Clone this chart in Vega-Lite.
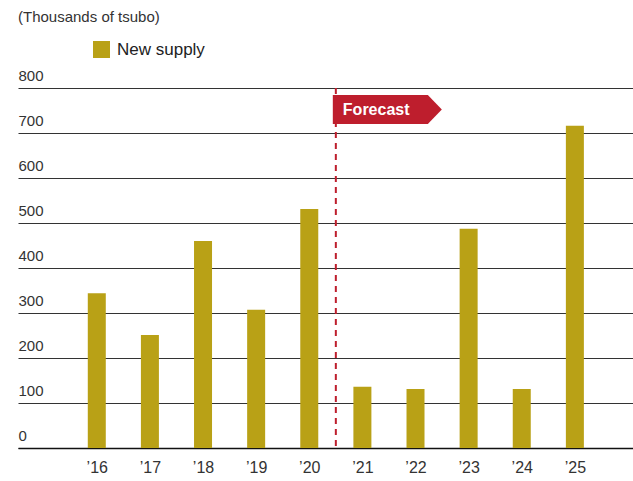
{
  "$schema": "https://vega.github.io/schema/vega-lite/v6.json",
  "autosize": "none",
  "width": 615,
  "height": 360,
  "padding": {"left": 18, "top": 88, "right": 0, "bottom": 33},
  "background": "white",
  "config": {"view": {"stroke": null}, "font": "Liberation Sans"},
  "title": {"text": "(Thousands of tsubo)", "anchor": "start", "frame": "group", "fontSize": 15, "fontWeight": "normal", "color": "#333", "font": "Liberation Sans", "offset": 16},
  "datasets": {
    "supply": [
      {"year": 2016, "value": 344, "series": "New supply"},
      {"year": 2017, "value": 251, "series": "New supply"},
      {"year": 2018, "value": 460, "series": "New supply"},
      {"year": 2019, "value": 307, "series": "New supply"},
      {"year": 2020, "value": 531, "series": "New supply"},
      {"year": 2021, "value": 136, "series": "New supply"},
      {"year": 2022, "value": 131, "series": "New supply"},
      {"year": 2023, "value": 487, "series": "New supply"},
      {"year": 2024, "value": 131, "series": "New supply"},
      {"year": 2025, "value": 716, "series": "New supply"}
    ],
    "forecast": [
      {"start": 2020.5, "top": 800, "bottom": 0, "labelY": 752, "label": "Forecast"}
    ]
  },
  "layer": [
    {
      "data": {"name": "supply"},
      "mark": {"type": "bar", "size": 18},
      "encoding": {
        "x": {
          "field": "year", "type": "quantitative",
          "scale": {"domain": [2014.611, 2026.0], "nice": false, "zero": false},
          "axis": {
            "title": null, "values": [2016, 2017, 2018, 2019, 2020, 2021, 2022, 2023, 2024, 2025],
            "format": "d", "labelExpr": "'’' + slice(datum.label, 2)",
            "grid": false, "ticks": false, "tickSize": 0, "domain": true, "domainColor": "#111", "domainWidth": 1.5,
            "labelFontSize": 16, "labelColor": "#333", "labelPadding": 11, "labelFlush": false, "labelFont": "Liberation Sans"
          }
        },
        "y": {
          "field": "value", "type": "quantitative",
          "scale": {"domain": [0, 800], "nice": false},
          "axis": {
            "title": null, "values": [0, 100, 200, 300, 400, 500, 600, 700, 800],
            "grid": true, "gridColor": "#333", "gridWidth": 1.2, "domain": false, "ticks": false, "tickSize": 0,
            "labelAlign": "left", "labelBaseline": "alphabetic", "labelOffset": -8, "labelPadding": 0,
            "labelFontSize": 15, "labelColor": "#333", "labelFont": "Liberation Sans"
          }
        },
        "color": {
          "field": "series", "type": "nominal",
          "scale": {"range": ["#B9A116"]},
          "legend": {
            "orient": "none", "legendX": 75, "legendY": -47, "title": null, "padding": 0,
            "symbolType": "square", "symbolSize": 289, "symbolStrokeWidth": 0, "symbolOpacity": 1,
            "labelFontSize": 17, "labelColor": "#222", "labelOffset": 7, "labelFont": "Liberation Sans"
          }
        }
      }
    },
    {
      "data": {"name": "forecast"},
      "mark": {"type": "rule", "color": "#BE1E2D", "strokeWidth": 2, "strokeDash": [6, 5]},
      "encoding": {
        "x": {"field": "start", "type": "quantitative"},
        "y": {"field": "top", "type": "quantitative"},
        "y2": {"field": "bottom"}
      }
    },
    {
      "data": {"name": "forecast"},
      "mark": {
        "type": "point", "filled": true, "opacity": 1, "color": "#BE1E2D", "strokeWidth": 0,
        "shape": "M-1,-0.266L0.743,-0.266L1,0L0.743,0.266L-1,0.266Z",
        "size": 11881, "xOffset": 51.5
      },
      "encoding": {
        "x": {"field": "start", "type": "quantitative"},
        "y": {"field": "labelY", "type": "quantitative"}
      }
    },
    {
      "data": {"name": "forecast"},
      "mark": {"type": "text", "align": "left", "baseline": "middle", "dx": 7, "color": "white", "fontSize": 16, "fontWeight": "bold", "font": "Liberation Sans"},
      "encoding": {
        "x": {"field": "start", "type": "quantitative"},
        "y": {"field": "labelY", "type": "quantitative"},
        "text": {"field": "label"}
      }
    }
  ]
}
